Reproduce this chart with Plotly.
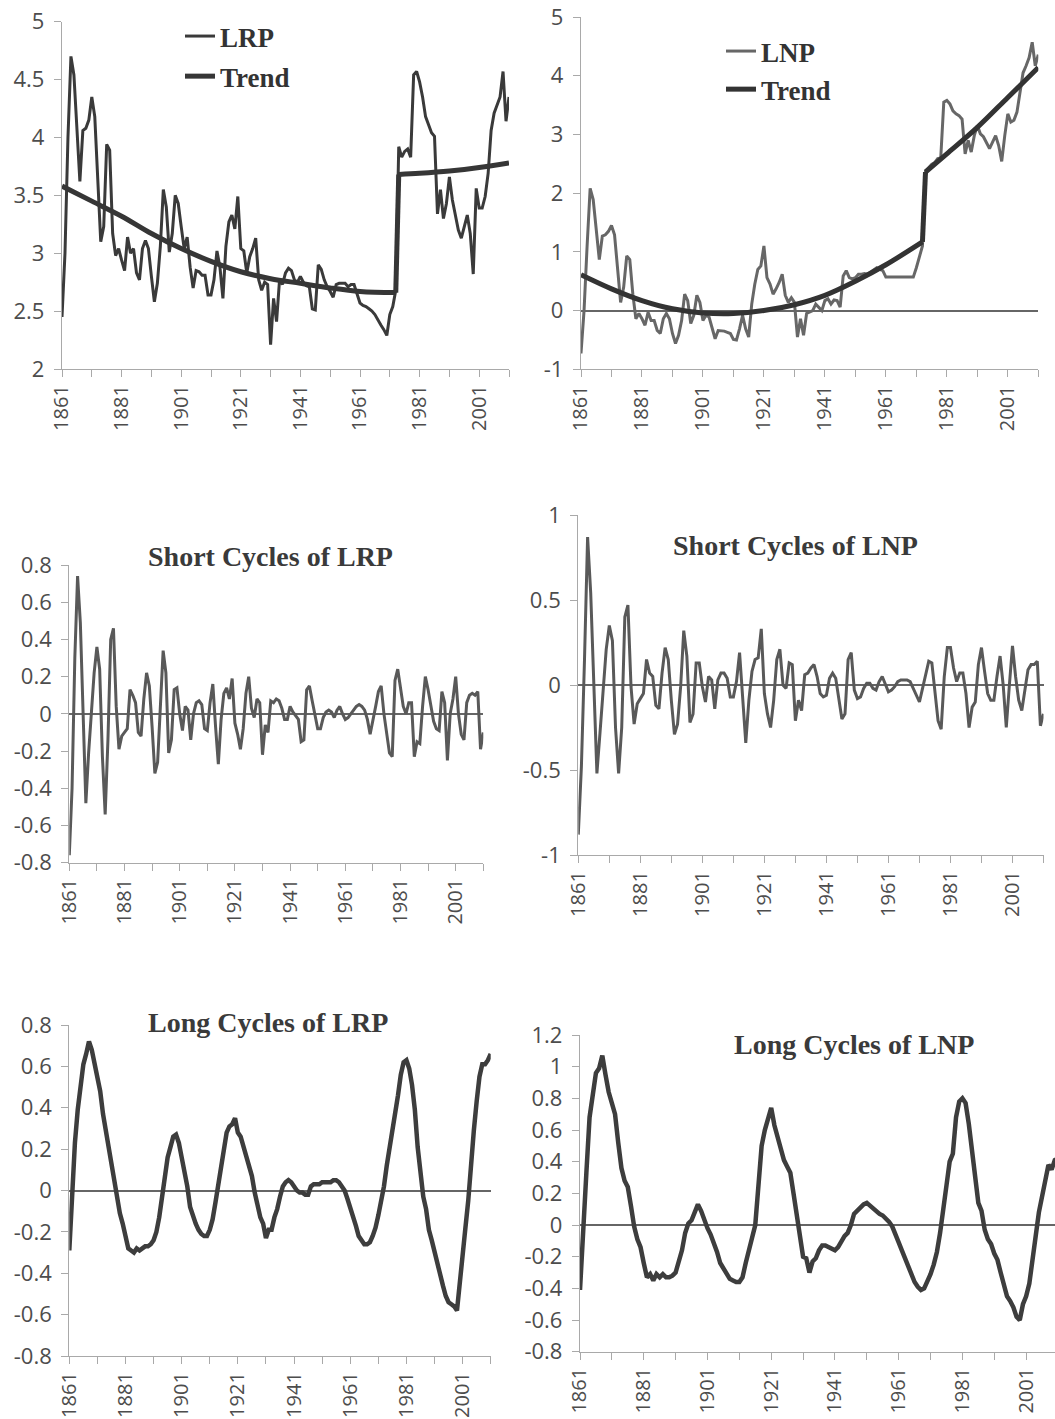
import plotly.graph_objects as go

# ---------------- data ----------------
YEARS = list(range(1861, 2012))

LRP = [
    2.45, 3.00, 4.00, 4.70, 4.54, 4.09, 3.62, 4.06, 4.08, 4.15,
    4.35, 4.18, 3.60, 3.10, 3.23, 3.94, 3.89, 3.17, 2.98, 3.04,
    2.94, 2.85, 3.14, 3.00, 3.04, 2.83, 2.77, 3.04, 3.11, 3.04,
    2.80, 2.58, 2.74, 3.06, 3.55, 3.40, 3.01, 3.17, 3.50, 3.43,
    3.23, 3.04, 3.14, 2.88, 2.70, 2.85, 2.84, 2.81, 2.81, 2.64,
    2.64, 2.77, 3.02, 2.88, 2.61, 3.06, 3.27, 3.33, 3.21, 3.49,
    3.04, 3.02, 2.83, 2.97, 3.04, 3.13, 2.77, 2.68, 2.75, 2.73,
    2.21, 2.61, 2.41, 2.77, 2.73, 2.83, 2.87, 2.85, 2.77, 2.75,
    2.80, 2.75, 2.72, 2.71, 2.52, 2.51, 2.90, 2.86, 2.77, 2.71,
    2.67, 2.62, 2.73, 2.74, 2.74, 2.74, 2.71, 2.73, 2.73, 2.65,
    2.57, 2.55, 2.54, 2.52, 2.50, 2.47, 2.42, 2.38, 2.34, 2.29,
    2.47, 2.54, 2.68, 3.92, 3.83, 3.88, 3.90, 3.83, 4.54, 4.57,
    4.48, 4.35, 4.18, 4.11, 4.04, 4.01, 3.34, 3.55, 3.30, 3.43,
    3.66, 3.46, 3.34, 3.20, 3.13, 3.23, 3.33, 3.17, 2.82, 3.56,
    3.39, 3.39, 3.49, 3.69, 4.06, 4.21, 4.29, 4.35, 4.57, 4.14,
    4.35,
]

LRP_TREND_YEARS_1 = [1861, 1871, 1881, 1891, 1901, 1911, 1921, 1931, 1941, 1951, 1961, 1973]
LRP_TREND_1 = [3.58, 3.45, 3.32, 3.17, 3.04, 2.93, 2.84, 2.78, 2.74, 2.70, 2.67, 2.66]
LRP_TREND_YEARS_2 = [1974, 1981, 1991, 2001, 2011]
LRP_TREND_2 = [3.68, 3.69, 3.71, 3.74, 3.78]

LNP = [
    -0.73, 0.00, 1.10, 2.08, 1.89, 1.35, 0.87, 1.27, 1.29, 1.35,
    1.45, 1.29, 0.74, 0.14, 0.40, 0.93, 0.87, 0.28, -0.14, -0.05,
    -0.14, -0.25, -0.03, -0.17, -0.17, -0.34, -0.39, -0.14, -0.05, -0.14,
    -0.39, -0.56, -0.42, -0.17, 0.28, 0.17, -0.22, -0.08, 0.26, 0.14,
    -0.17, -0.08, -0.11, -0.30, -0.48, -0.34, -0.34, -0.35, -0.37, -0.39,
    -0.49, -0.50, -0.31, -0.08, -0.31, -0.45, 0.11, 0.45, 0.70, 0.76,
    1.10, 0.56, 0.45, 0.28, 0.37, 0.48, 0.62, 0.26, 0.14, 0.22,
    0.14, -0.45, -0.14, -0.42, -0.05, -0.03, 0.00, 0.11, 0.06, 0.00,
    0.17, 0.20, 0.11, 0.18, 0.17, 0.06, 0.59, 0.68, 0.56, 0.54,
    0.56, 0.62, 0.62, 0.63, 0.62, 0.66, 0.69, 0.73, 0.70, 0.68,
    0.57, 0.57, 0.57, 0.57, 0.57, 0.57, 0.57, 0.57, 0.57, 0.57,
    0.73, 0.90, 1.10, 2.37, 2.43, 2.49, 2.52, 2.59, 2.60, 3.55,
    3.58, 3.52, 3.40, 3.35, 3.32, 3.26, 2.67, 2.90, 2.70, 2.98,
    3.15, 3.01, 2.96, 2.87, 2.76, 2.87, 2.98, 2.81, 2.54, 2.98,
    3.35, 3.21, 3.24, 3.38, 3.75, 4.05, 4.17, 4.31, 4.57, 4.17,
    4.36,
]

LNP_TREND_YEARS_1 = [1861, 1871, 1881, 1891, 1901, 1911, 1921, 1931, 1941, 1951, 1961, 1973]
LNP_TREND_1 = [0.61, 0.37, 0.17, 0.03, -0.04, -0.05, 0.00, 0.10, 0.26, 0.50, 0.78, 1.17]
LNP_TREND_YEARS_2 = [1974, 1981, 1991, 2001, 2011]
LNP_TREND_2 = [2.36, 2.67, 3.12, 3.63, 4.14]

SHORT_LRP = [
    -0.76, -0.40, 0.30, 0.74, 0.49, 0.04, -0.48, -0.21, 0.00, 0.22,
    0.36, 0.24, -0.23, -0.54, -0.14, 0.40, 0.46, 0.04, -0.19, -0.12,
    -0.10, -0.08, 0.13, 0.10, 0.06, -0.10, -0.12, 0.08, 0.22, 0.15,
    -0.07, -0.32, -0.26, 0.02, 0.34, 0.22, -0.21, -0.14, 0.13, 0.14,
    0.00, -0.09, 0.04, 0.02, -0.14, 0.00, 0.06, 0.07, 0.05, -0.08,
    -0.09, 0.06, 0.16, -0.07, -0.27, -0.03, 0.11, 0.14, 0.08, 0.19,
    -0.05, -0.11, -0.19, -0.08, 0.11, 0.20, 0.03, -0.02, 0.08, 0.06,
    -0.22, -0.06, -0.10, 0.07, 0.06, 0.08, 0.07, 0.03, -0.03, -0.03,
    0.04, 0.01, -0.01, -0.03, -0.15, -0.14, 0.13, 0.15, 0.07, 0.00,
    -0.08, -0.08, -0.02, 0.01, 0.02, 0.01, -0.02, 0.02, 0.04, 0.00,
    -0.03, -0.02, 0.00, 0.02, 0.04, 0.05, 0.04, 0.02, -0.03, -0.11,
    -0.04, 0.04, 0.12, 0.15, 0.00, -0.12, -0.21, -0.23, 0.18, 0.24,
    0.15, 0.04, 0.00, 0.06, 0.06, -0.23, -0.15, -0.16, 0.04, 0.20,
    0.13, 0.05, -0.04, -0.08, -0.09, 0.12, 0.06, -0.25, 0.00, 0.08,
    0.20, 0.00, -0.11, -0.14, 0.06, 0.10, 0.11, 0.10, 0.12, -0.19,
    -0.10,
]

SHORT_LNP = [
    -0.88, -0.48, 0.15, 0.87, 0.54, -0.01, -0.52, -0.28, -0.05, 0.21,
    0.35, 0.26, -0.25, -0.52, -0.25, 0.40, 0.47, -0.01, -0.23, -0.11,
    -0.08, -0.05, 0.15, 0.07, 0.05, -0.12, -0.14, 0.07, 0.22, 0.15,
    -0.09, -0.29, -0.23, -0.01, 0.32, 0.17, -0.22, -0.17, 0.13, 0.13,
    -0.01, -0.10, 0.05, 0.03, -0.14, 0.03, 0.07, 0.07, 0.04, -0.07,
    -0.07, 0.02, 0.19, -0.09, -0.34, -0.09, 0.08, 0.15, 0.16, 0.33,
    -0.05, -0.17, -0.25, -0.09, 0.15, 0.21, 0.00, -0.02, 0.13, 0.12,
    -0.21, -0.09, -0.15, 0.06, 0.07, 0.10, 0.12, 0.05, -0.05, -0.07,
    -0.06, 0.04, 0.07, 0.04, -0.07, -0.20, -0.17, 0.15, 0.19, -0.03,
    -0.08, -0.07, -0.02, 0.01, 0.01, -0.02, -0.03, 0.02, 0.05, 0.00,
    -0.04, -0.03, -0.01, 0.02, 0.03, 0.03, 0.03, 0.02, -0.02, -0.06,
    -0.10, -0.02, 0.06, 0.14, 0.13, -0.05, -0.21, -0.26, 0.05, 0.22,
    0.22, 0.10, 0.02, 0.07, 0.07, -0.05, -0.25, -0.13, -0.10, 0.12,
    0.22, 0.08, -0.05, -0.09, -0.09, 0.05, 0.17, 0.00, -0.25, 0.00,
    0.23, 0.05, -0.09, -0.15, -0.03, 0.09, 0.12, 0.12, 0.14, -0.24,
    -0.17,
]

LONG_LRP = [
    -0.29, 0.00, 0.23, 0.39, 0.52, 0.61, 0.66, 0.72, 0.68, 0.61,
    0.55, 0.48, 0.37, 0.28, 0.19, 0.13, 0.05, -0.05, -0.11, -0.16,
    -0.22, -0.28, -0.29, -0.30, -0.28, -0.29, -0.28, -0.27, -0.27, -0.26,
    -0.24, -0.20, -0.13, -0.03, 0.08, 0.16, 0.21, 0.26, 0.27, 0.23,
    0.16, 0.10, 0.02, -0.08, -0.13, -0.16, -0.19, -0.21, -0.22, -0.22,
    -0.19, -0.14, -0.06, 0.02, 0.11, 0.21, 0.28, 0.31, 0.32, 0.35,
    0.28, 0.26, 0.21, 0.16, 0.11, 0.07, -0.01, -0.08, -0.13, -0.16,
    -0.23, -0.19, -0.19, -0.13, -0.09, -0.03, 0.02, 0.04, 0.05, 0.04,
    0.02, 0.00, -0.01, -0.01, -0.02, -0.02, 0.02, 0.03, 0.03, 0.03,
    0.04, 0.04, 0.04, 0.04, 0.05, 0.05, 0.04, 0.02, 0.00, -0.04,
    -0.08, -0.13, -0.17, -0.22, -0.24, -0.26, -0.26, -0.25, -0.22, -0.18,
    -0.12, -0.05, 0.02, 0.12, 0.20, 0.29, 0.37, 0.46, 0.56, 0.62,
    0.63, 0.59, 0.51, 0.39, 0.21, 0.07, -0.03, -0.09, -0.19, -0.24,
    -0.30, -0.35, -0.40, -0.46, -0.51, -0.54, -0.55, -0.56, -0.58, -0.46,
    -0.33, -0.18, -0.05, 0.14, 0.29, 0.43, 0.55, 0.61, 0.61, 0.63,
    0.66,
]

LONG_LNP = [
    -0.41, 0.01, 0.33, 0.68, 0.84, 0.96, 0.99, 1.07, 0.95, 0.84,
    0.77, 0.70, 0.52, 0.36, 0.28, 0.24, 0.12, -0.01, -0.09, -0.14,
    -0.24, -0.33, -0.31, -0.35, -0.31, -0.33, -0.31, -0.33, -0.33, -0.32,
    -0.30, -0.24, -0.16, -0.05, 0.01, 0.03, 0.08, 0.13, 0.09, 0.03,
    -0.02, -0.06, -0.11, -0.17, -0.24, -0.27, -0.31, -0.34, -0.35, -0.36,
    -0.36, -0.33, -0.24, -0.17, -0.08, 0.00, 0.23, 0.50, 0.60, 0.66,
    0.74, 0.63, 0.55, 0.47, 0.41, 0.37, 0.33, 0.20, 0.07, -0.04,
    -0.20, -0.21, -0.30, -0.23, -0.21, -0.16, -0.13, -0.13, -0.14, -0.15,
    -0.16, -0.14, -0.10, -0.07, -0.05, 0.00, 0.07, 0.09, 0.11, 0.13,
    0.14, 0.12, 0.10, 0.08, 0.07, 0.06, 0.04, 0.02, -0.01, -0.07,
    -0.11, -0.16, -0.21, -0.27, -0.32, -0.36, -0.39, -0.41, -0.40, -0.36,
    -0.31, -0.25, -0.17, -0.05, 0.08, 0.25, 0.40, 0.45, 0.68, 0.78,
    0.80, 0.77, 0.64, 0.47, 0.35, 0.14, 0.09, -0.03, -0.09, -0.12,
    -0.18, -0.22, -0.30, -0.39, -0.45, -0.48, -0.52, -0.58, -0.60, -0.50,
    -0.45, -0.37, -0.24, -0.07, 0.08, 0.18, 0.25, 0.38, 0.35, 0.41,
    0.42,
]

X_TICK_YEARS = [1861, 1881, 1901, 1921, 1941, 1961, 1981, 2001]
X_TICK_LABELS = ["1861", "1881", "1901", "1921", "1941", "1961", "1981", "2001"]

Y_TICKS_TL = [2, 2.5, 3, 3.5, 4, 4.5, 5]
Y_LABELS_TL = ["2", "2.5", "3", "3.5", "4", "4.5", "5"]
Y_TICKS_TR = [-1, 0, 1, 2, 3, 4, 5]
Y_LABELS_TR = ["-1", "0", "1", "2", "3", "4", "5"]
Y_TICKS_ML = [-0.8, -0.6, -0.4, -0.2, 0, 0.2, 0.4, 0.6, 0.8]
Y_LABELS_ML = ["-0.8", "-0.6", "-0.4", "-0.2", "0", "0.2", "0.4", "0.6", "0.8"]
Y_TICKS_MR = [-1, -0.5, 0, 0.5, 1]
Y_LABELS_MR = ["-1", "-0.5", "0", "0.5", "1"]
Y_TICKS_BL = [-0.8, -0.6, -0.4, -0.2, 0, 0.2, 0.4, 0.6, 0.8]
Y_LABELS_BL = ["-0.8", "-0.6", "-0.4", "-0.2", "0", "0.2", "0.4", "0.6", "0.8"]
Y_TICKS_BR = [-0.8, -0.6, -0.4, -0.2, 0, 0.2, 0.4, 0.6, 0.8, 1, 1.2]
Y_LABELS_BR = ["-0.8", "-0.6", "-0.4", "-0.2", "0", "0.2", "0.4", "0.6", "0.8", "1", "1.2"]

TITLES = ["Short Cycles of LRP", "Short Cycles of LNP", "Long Cycles of LRP", "Long Cycles of LNP"]

# ---------------- styling / layout ----------------
W, H = 1055, 1419
AXC = "#a9a9a9"
TXT = "#4d4d4d"
XTICKFONT = dict(family="Open Sans", size=20, color=TXT)
YTICKFONT = dict(family="Open Sans", size=22, color=TXT)
SERIF = "Liberation Serif"

fig = go.Figure()
layout = dict(width=W, height=H, margin=dict(l=0, r=0, t=0, b=0, autoexpand=False), autosize=False,
              template="none", paper_bgcolor="white", plot_bgcolor="white", showlegend=True)


def add_axes(i, xpx, ypx, yrange, ytv, ytt, xend=2011, zl=True):
    s = "" if i == 1 else str(i)
    xa = dict(domain=[xpx[0] / W, min(xpx[1] / W, 1.0)], range=[1861, xend], anchor="y" + s,
              tickmode="array", tickvals=X_TICK_YEARS, ticktext=X_TICK_LABELS, tickangle=-90,
              ticks="outside", ticklen=7, tickwidth=1.3, tickcolor=AXC,
              showline=True, linecolor=AXC, linewidth=1.3, showgrid=False, zeroline=False,
              minor=dict(tick0=1861, dtick=10, ticks="outside", ticklen=7, tickwidth=1.3,
                         tickcolor=AXC, showgrid=False),
              tickfont=XTICKFONT, ticklabelstandoff=0, ticklabeloverflow="allow",
              fixedrange=True, automargin=False)
    ya = dict(domain=[1 - ypx[1] / H, 1 - ypx[0] / H], range=yrange, anchor="x" + s,
              tickmode="array", tickvals=ytv, ticktext=ytt,
              ticks="outside", ticklen=7, tickwidth=1.3, tickcolor=AXC,
              showline=True, linecolor=AXC, linewidth=1.3, showgrid=False,
              zeroline=zl, zerolinecolor="#666666", zerolinewidth=2,
              tickfont=YTICKFONT, ticklabelstandoff=5, ticklabeloverflow="allow",
              fixedrange=True, automargin=False)
    layout["xaxis" + s] = xa
    layout["yaxis" + s] = ya
    return "x" + s, "y" + s


# panel 1: LRP + trend
x1, y1 = add_axes(1, (62, 509), (21.7, 369), [2, 5], Y_TICKS_TL, Y_LABELS_TL, zl=False)
fig.add_trace(go.Scatter(x=YEARS, y=LRP, mode="lines", name="LRP", xaxis=x1, yaxis=y1,
                         line=dict(color="#3a3a3a", width=3), legend="legend", legendgroup="a"))
fig.add_trace(go.Scatter(x=LRP_TREND_YEARS_1, y=LRP_TREND_1, mode="lines", name="Trend", xaxis=x1, yaxis=y1,
                         line=dict(color="#363636", width=5, shape="spline"), legend="legend", legendgroup="b"))
fig.add_trace(go.Scatter(x=[LRP_TREND_YEARS_1[-1], LRP_TREND_YEARS_2[0]], y=[LRP_TREND_1[-1], LRP_TREND_2[0]],
                         mode="lines", showlegend=False, xaxis=x1, yaxis=y1,
                         line=dict(color="#363636", width=5), legend="legend", legendgroup="b"))
fig.add_trace(go.Scatter(x=LRP_TREND_YEARS_2, y=LRP_TREND_2, mode="lines", showlegend=False, xaxis=x1, yaxis=y1,
                         line=dict(color="#363636", width=5, shape="spline"), legend="legend", legendgroup="b"))

# panel 2: LNP + trend
x2, y2 = add_axes(2, (581, 1038.3), (17, 369.3), [-1, 5], Y_TICKS_TR, Y_LABELS_TR)
fig.add_trace(go.Scatter(x=YEARS, y=LNP, mode="lines", name="LNP", xaxis=x2, yaxis=y2,
                         line=dict(color="#676767", width=3), legend="legend2", legendgroup="c"))
fig.add_trace(go.Scatter(x=LNP_TREND_YEARS_1, y=LNP_TREND_1, mode="lines", name="Trend", xaxis=x2, yaxis=y2,
                         line=dict(color="#333333", width=5, shape="spline"), legend="legend2", legendgroup="d"))
fig.add_trace(go.Scatter(x=[LNP_TREND_YEARS_1[-1], LNP_TREND_YEARS_2[0]], y=[LNP_TREND_1[-1], LNP_TREND_2[0]],
                         mode="lines", showlegend=False, xaxis=x2, yaxis=y2,
                         line=dict(color="#333333", width=5), legend="legend2", legendgroup="d"))
fig.add_trace(go.Scatter(x=LNP_TREND_YEARS_2, y=LNP_TREND_2, mode="lines", showlegend=False, xaxis=x2, yaxis=y2,
                         line=dict(color="#333333", width=5, shape="spline"), legend="legend2", legendgroup="d"))

# panel 3: short cycles LRP
x3, y3 = add_axes(3, (69.3, 483.3), (565, 862.7), [-0.8, 0.8], Y_TICKS_ML, Y_LABELS_ML)
fig.add_trace(go.Scatter(x=YEARS, y=SHORT_LRP, mode="lines", showlegend=False, xaxis=x3, yaxis=y3,
                         line=dict(color="#595959", width=3)))

# panel 4: short cycles LNP
x4, y4 = add_axes(4, (578.3, 1043.5), (515, 855), [-1, 1], Y_TICKS_MR, Y_LABELS_MR)
fig.add_trace(go.Scatter(x=YEARS, y=SHORT_LNP, mode="lines", showlegend=False, xaxis=x4, yaxis=y4,
                         line=dict(color="#595959", width=3)))

# panel 5: long cycles LRP
x5, y5 = add_axes(5, (69.3, 490.7), (1025, 1356), [-0.8, 0.8], Y_TICKS_BL, Y_LABELS_BL)
fig.add_trace(go.Scatter(x=YEARS, y=LONG_LRP, mode="lines", showlegend=False, xaxis=x5, yaxis=y5,
                         line=dict(color="#3d3d3d", width=4.5)))

# panel 6: long cycles LNP (cut by the right edge of the picture)
br_x0, br_x1 = 580, 1058
br_end = 1861 + (W - br_x0) * 150 / (br_x1 - br_x0)
x6, y6 = add_axes(6, (br_x0, W), (1035, 1351.7), [-0.8, 1.2], Y_TICKS_BR, Y_LABELS_BR, xend=br_end)
fig.add_trace(go.Scatter(x=YEARS, y=LONG_LNP, mode="lines", showlegend=False, xaxis=x6, yaxis=y6,
                         line=dict(color="#3d3d3d", width=4.5)))

# legends
legfont = dict(family=SERIF, size=27, color="#333333", weight="bold")
layout["legend"] = dict(x=180 / W, y=1 - 12 / H, xanchor="left", yanchor="top", font=legfont,
                        bgcolor="rgba(0,0,0,0)", traceorder="grouped", tracegroupgap=2)
layout["legend2"] = dict(x=721 / W, y=1 - 27 / H, xanchor="left", yanchor="top", font=legfont,
                         bgcolor="rgba(0,0,0,0)", traceorder="grouped", tracegroupgap=0)

# panel titles
title_pos = [(270, 557), (795, 545), (268, 1022), (854, 1044)]
anns = []
for t, (tx, ty) in zip(TITLES, title_pos):
    anns.append(dict(text=t, x=tx / W, y=1 - ty / H, xref="paper", yref="paper", showarrow=False,
                     xanchor="center", yanchor="middle",
                     font=dict(family=SERIF, size=28, color="#3a3a3a", weight="bold")))
layout["annotations"] = anns

fig.update_layout(**layout)
fig.write_html("out.html")
